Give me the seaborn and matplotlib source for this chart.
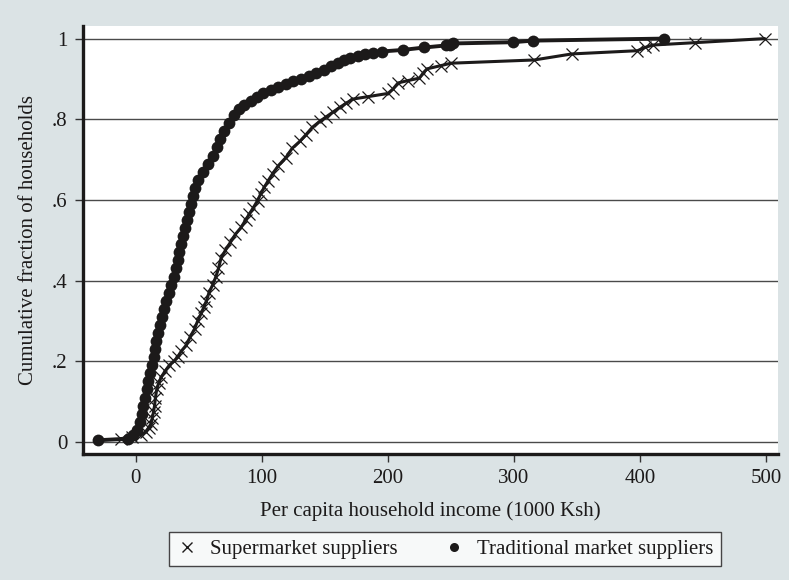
import matplotlib
matplotlib.use("Agg")
import matplotlib.pyplot as plt
from matplotlib.lines import Line2D
import numpy as np
import pandas as pd
import seaborn as sns

# ---- data ----
trad_income = [-30, -6, -2, 1, 3, 4.5, 6, 7, 8.5, 9.5, 11, 12.5, 14, 15, 16, 17.5, 19, 21,
               22.5, 24, 26, 28, 30, 31.5, 33, 34.5, 36, 37.5, 39, 40.5, 42, 43.5, 45, 46.5,
               49, 53, 57, 61, 64, 67, 70, 74, 78, 82, 86, 91, 96, 101, 107, 113, 119, 125,
               131, 137, 143, 149, 155, 160, 165, 170, 176, 182, 188, 195, 212, 229, 246,
               249, 252, 299, 315, 419]
trad_cum = [0.004, 0.008, 0.016, 0.03, 0.05, 0.07, 0.09, 0.11, 0.13, 0.15, 0.17, 0.19, 0.21,
            0.23, 0.25, 0.27, 0.29, 0.31, 0.33, 0.35, 0.37, 0.39, 0.41, 0.43, 0.45, 0.47,
            0.49, 0.51, 0.53, 0.55, 0.57, 0.59, 0.61, 0.63, 0.65, 0.67, 0.69, 0.71, 0.73,
            0.75, 0.77, 0.79, 0.81, 0.825, 0.835, 0.845, 0.855, 0.865, 0.873, 0.88, 0.887,
            0.894, 0.90, 0.908, 0.915, 0.923, 0.932, 0.94, 0.947, 0.953, 0.957, 0.961,
            0.965, 0.968, 0.972, 0.978, 0.983, 0.985, 0.988, 0.991, 0.995, 1.0]

super_income = [-12, -3, 4, 8, 10, 12, 13, 14, 14.8, 15.5, 16.5, 18, 20, 23, 26.5, 30, 33, 36,
                40, 43, 46.5, 49, 52, 54, 56, 58, 61, 63.5, 65.5, 67.5, 71, 75, 79, 83.5, 87,
                90, 93, 96.5, 99, 102, 105, 108.5, 113, 119, 124, 130, 135, 140, 146, 151,
                156, 162, 167, 172, 184, 200, 204, 208, 216, 225, 228, 231, 242, 250, 316,
                346, 398, 404, 410, 444, 499]
super_cum = [0.008, 0.012, 0.018, 0.025, 0.035, 0.045, 0.06, 0.075, 0.09, 0.11, 0.13, 0.145,
             0.16, 0.175, 0.19, 0.20, 0.21, 0.225, 0.24, 0.26, 0.28, 0.30, 0.32, 0.335, 0.35,
             0.37, 0.39, 0.41, 0.43, 0.455, 0.475, 0.495, 0.515, 0.532, 0.55, 0.565, 0.58,
             0.598, 0.615, 0.632, 0.648, 0.665, 0.685, 0.705, 0.728, 0.745, 0.762, 0.78,
             0.795, 0.806, 0.817, 0.83, 0.84, 0.85, 0.856, 0.864, 0.875, 0.89, 0.896, 0.902,
             0.915, 0.925, 0.933, 0.939, 0.947, 0.962, 0.970, 0.978, 0.984, 0.990, 1.0]

series_labels = ["Supermarket suppliers", "Traditional market suppliers"]
x_ticks = [0, 100, 200, 300, 400, 500]
x_ticklabels = ["0", "100", "200", "300", "400", "500"]
y_ticks = [0, 0.2, 0.4, 0.6, 0.8, 1.0]
y_ticklabels = ["0", ".2", ".4", ".6", ".8", "1"]
x_title = "Per capita household income (1000 Ksh)"
y_title = "Cumulative fraction of households"

# ---- style ----
sns.set_style("white")
plt.rcParams["font.family"] = ["Liberation Serif", "DejaVu Serif"]
BG = "#dbe3e5"
INK = "#1c1a1a"

fig = plt.figure(figsize=(7.89, 5.80), dpi=100, facecolor=BG)
ax = fig.add_axes([0.1052, 0.218, 0.8808, 0.737])
ax.set_facecolor("white")

df_s = pd.DataFrame({"income": super_income, "cum": super_cum})
df_t = pd.DataFrame({"income": trad_income, "cum": trad_cum})

sns.lineplot(data=df_s, x="income", y="cum", ax=ax, estimator=None, sort=False,
             color=INK, linewidth=2.2, marker="x", markersize=8,
             markeredgewidth=0.9, markeredgecolor=INK, zorder=3)
sns.lineplot(data=df_t, x="income", y="cum", ax=ax, estimator=None, sort=False,
             color=INK, linewidth=2.8, marker="o", markersize=8.5,
             markeredgewidth=0, markerfacecolor=INK, zorder=4)

ax.set_xlim(-42, 509.5)
ax.set_ylim(-0.029, 1.031)
ax.set_xticks(x_ticks)
ax.set_xticklabels(x_ticklabels)
ax.set_yticks(y_ticks)
ax.set_yticklabels(y_ticklabels)

ax.grid(axis="y", color="#4a4a4a", linewidth=1.0)
ax.grid(axis="x", visible=False)
ax.set_axisbelow(True)

for side in ["top", "right"]:
    ax.spines[side].set_visible(False)
for side in ["left", "bottom"]:
    ax.spines[side].set_visible(True)
    ax.spines[side].set_color(INK)
    ax.spines[side].set_linewidth(2.4)

ax.tick_params(axis="both", direction="out", length=6, width=1.0, color="#333333",
               labelsize=15, labelcolor=INK, pad=5, left=True, bottom=True)

ax.set_xlabel(x_title, fontsize=15, color=INK, labelpad=10)
ax.set_ylabel(y_title, fontsize=15, color=INK, labelpad=10)

handles = [
    Line2D([], [], linestyle="none", marker="x", markersize=7, markeredgewidth=1.0, color=INK),
    Line2D([], [], linestyle="none", marker="o", markersize=6.5, markeredgewidth=0, color=INK),
]
leg = fig.legend(handles, series_labels, loc="center", bbox_to_anchor=(0.564, 0.053),
                 ncol=2, frameon=True, fancybox=False, fontsize=15, handlelength=1.0,
                 handletextpad=0.6, columnspacing=2.2, borderpad=0.35,
                 labelcolor=INK)
leg.get_frame().set_edgecolor(INK)
leg.get_frame().set_linewidth(1.0)
leg.get_frame().set_facecolor("white")

fig.savefig("out.png", dpi=100, facecolor=BG)
